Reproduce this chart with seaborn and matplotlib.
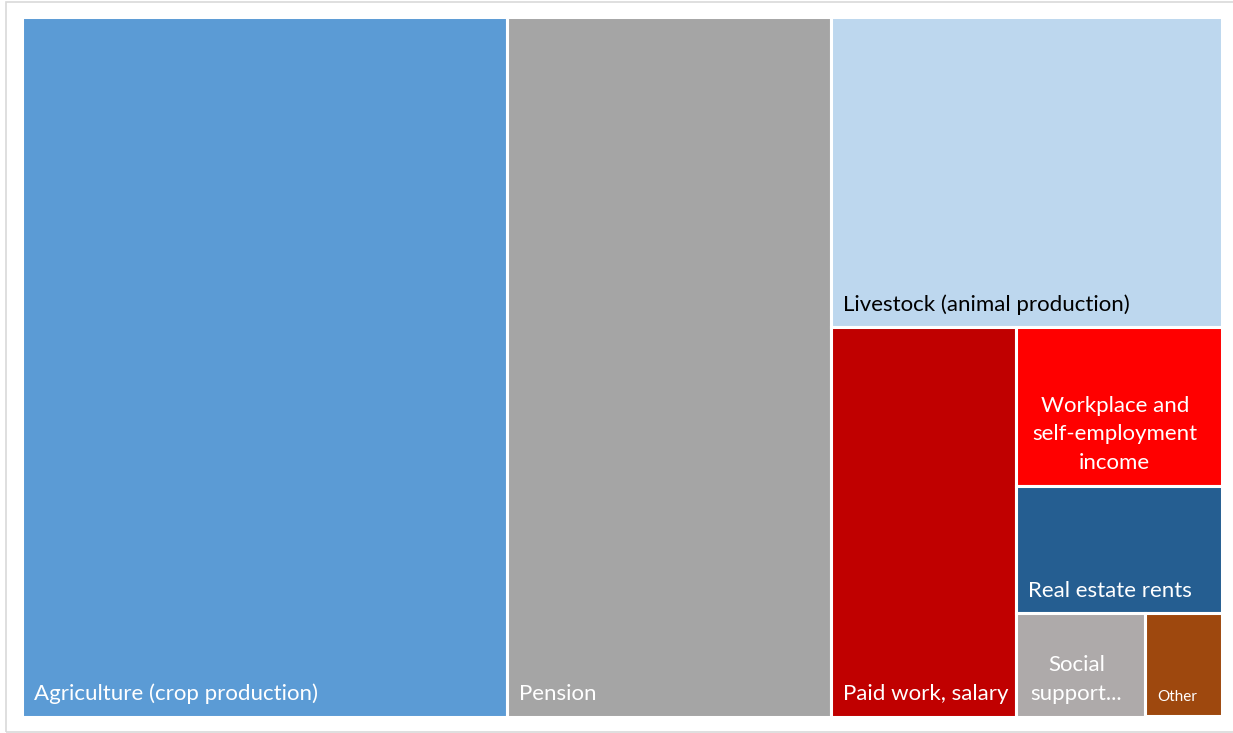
import matplotlib
import numpy as np
import pandas as pd
import seaborn as sns
import matplotlib.pyplot as plt
from matplotlib.patches import Rectangle

sns.set_theme(style="white")
plt.rcParams['font.family'] = ['Lato', 'DejaVu Sans']

# income sources, share of total (%)
labels = ["Agriculture (crop production)", "Pension", "Livestock (animal production)",
          "Paid work, salary", "Workplace and\nself-employment\nincome", "Real estate rents",
          "Social\nsupport...", "Other"]
shares = [40.6, 27.1, 14.5, 8.6, 3.9, 3.1, 1.6, 0.95]
colors = ["#5B9BD5", "#A5A5A5", "#BDD7EE", "#C00000", "#FF0000", "#255E91",
          "#AEAAAA", "#9E480E"]
text_colors = ["white", "white", "black", "white", "white", "white", "white", "white"]
font_sizes = [16, 16, 16, 16, 16, 16, 16, 11]


def slice_layout(values, w, h):
    # each item takes a strip across the longer side of what is left
    total = float(sum(values))
    x, y = 0.0, 0.0
    rects = []
    left = total
    for v in values:
        frac = v / left
        if w >= h:
            sw = w * frac
            rects.append((x, y, sw, h))
            x += sw
            w -= sw
        else:
            sh = h * frac
            rects.append((x, y + h - sh, w, sh))
            h -= sh
        left -= v
    return rects


fig = plt.figure(figsize=(12.33, 7.33), dpi=100)
ax_pos = [21.5 / 1233, 16.5 / 733, 1200 / 1233, 700 / 733]
ax = fig.add_axes(ax_pos)
W = ax_pos[2] * 1233
H = ax_pos[3] * 733

df = pd.DataFrame({'label': labels, 'share': shares})
boxes = slice_layout(df['share'].tolist(), W, H)
df[['x', 'y', 'w', 'h']] = boxes

ax.bar(df['x'], df['h'], width=df['w'], bottom=df['y'], align='edge',
       color=colors, edgecolor='white', linewidth=2.2)

for i, r in df.iterrows():
    if '\n' in r['label']:
        ax.text(r['x'] + r['w'] / 2 - 4, r['y'] + 13, r['label'], ha='center', va='bottom',
                color=text_colors[i], fontsize=font_sizes[i], linespacing=1.55)
    else:
        ax.text(r['x'] + 12, r['y'] + 12, r['label'], ha='left', va='bottom',
                color=text_colors[i], fontsize=font_sizes[i])

ax.set_xlim(0, W)
ax.set_ylim(0, H)
ax.axis('off')

# light frame around the chart
fig.patches.append(Rectangle((6 / 1233, 1 / 733), 1230 / 1233, 730 / 733,
                             transform=fig.transFigure, fill=False,
                             edgecolor='#D9D9D9', linewidth=1.2))

fig.savefig("out.png", dpi=100)
